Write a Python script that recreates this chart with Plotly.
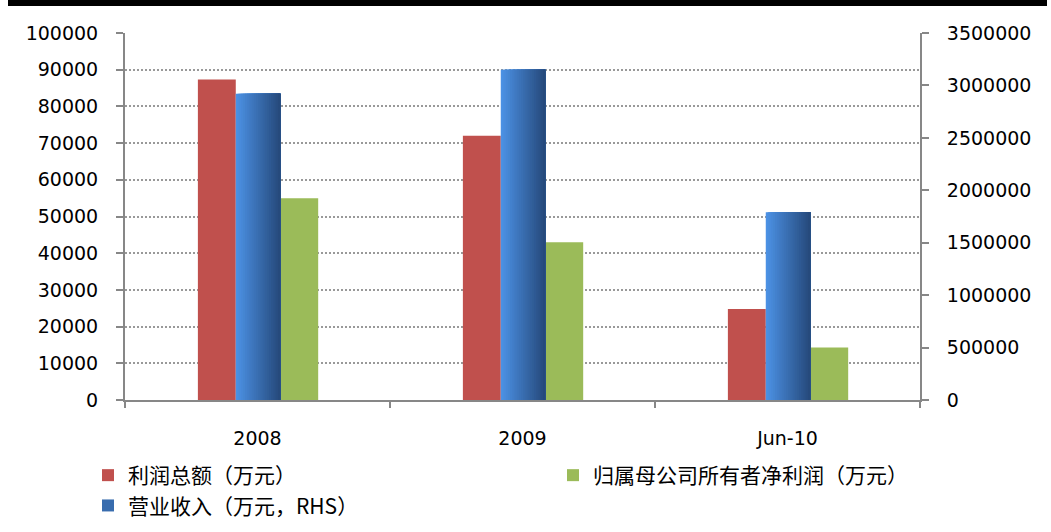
import plotly.graph_objects as go

categories = ["2008", "2009", "Jun-10"]
profit_total = [87300, 72000, 24800]          # 利润总额（万元）, left axis
revenue = [2920000, 3150000, 1790000]         # 营业收入（万元，RHS）, right axis
net_profit_parent = [55000, 43000, 14300]     # 归属母公司所有者净利润（万元）, left axis

left_ticks = list(range(0, 100001, 10000))
right_ticks = list(range(0, 3500001, 500000))

W, H = 1051, 532
ml, mr, mt, mb = 125, 131, 33, 132

RED = "#C0504D"
GREEN = "#9BBB59"
BLUE_L = (76, 145, 228)
BLUE_R = (38, 74, 124)

TICK_FONT = dict(family="DejaVu Sans", size=19, color="#000000")
CJK = "Noto Sans CJK SC"

fig = go.Figure()

# red bars
fig.add_trace(go.Bar(
    x=categories, y=profit_total, name="利润总额（万元）",
    marker=dict(color=RED, line=dict(width=0)),
    offset=-0.225, width=0.143, yaxis="y", legend="legend", legendrank=1,
))

# blue bars with horizontal gradient built from overlapping slices
bw = 0.168
b0 = -0.082
N = 24
for i in range(N):
    t = i / (N - 1)
    c = tuple(round(BLUE_L[k] + (BLUE_R[k] - BLUE_L[k]) * t) for k in range(3))
    fig.add_trace(go.Bar(
        x=categories, y=revenue, name="营业收入（万元，RHS）",
        marker=dict(color="rgb(%d,%d,%d)" % c, line=dict(width=0)),
        offset=b0 + bw * i / N, width=bw - bw * i / N,
        yaxis="y2", legend="legend", legendrank=2,
        showlegend=(i == N // 2), hoverinfo="skip" if i else None,
    ))

# green bars
fig.add_trace(go.Bar(
    x=categories, y=net_profit_parent, name="归属母公司所有者净利润（万元）",
    marker=dict(color=GREEN, line=dict(width=0)),
    offset=0.086, width=0.143, yaxis="y", legend="legend2",
))

axis_line = "#878787"
fig.update_layout(
    width=W, height=H,
    margin=dict(l=ml, r=mr, t=mt, b=mb, pad=0, autoexpand=False),
    paper_bgcolor="white", plot_bgcolor="white",
    barmode="overlay",
    xaxis=dict(
        type="category", range=[-0.5, 2.5], tickson="boundaries",
        showline=True, linecolor=axis_line, linewidth=2,
        ticks="outside", ticklen=6, tickwidth=2, tickcolor=axis_line,
        showgrid=False, tickfont=TICK_FONT, ticklabelstandoff=20,
        tickangle=0, automargin=False,
    ),
    yaxis=dict(
        range=[0, 100000], tickvals=left_ticks, ticktext=[str(v) for v in left_ticks],
        showline=True, linecolor=axis_line, linewidth=2,
        ticks="outside", ticklen=7, tickwidth=2, tickcolor=axis_line,
        showgrid=True, gridcolor="#999999", gridwidth=1.5, griddash="2px,2px",
        zeroline=False, tickfont=TICK_FONT, ticklabelstandoff=14, automargin=False,
    ),
    yaxis2=dict(
        range=[0, 3500000], tickvals=right_ticks, ticktext=[str(v) for v in right_ticks],
        overlaying="y", side="right",
        showline=True, linecolor=axis_line, linewidth=2,
        ticks="outside", ticklen=7, tickwidth=2, tickcolor=axis_line,
        showgrid=False, zeroline=False, tickfont=TICK_FONT, ticklabelstandoff=14,
        automargin=False,
    ),
    legend=dict(
        xref="container", yref="container",
        x=88 / W, y=1 - 455 / H, xanchor="left", yanchor="top",
        orientation="v", traceorder="normal",
        font=dict(family=CJK, size=21, color="#000000"),
        bgcolor="rgba(0,0,0,0)", tracegroupgap=0, itemwidth=30,
    ),
    legend2=dict(
        xref="container", yref="container",
        x=553 / W, y=1 - 455 / H, xanchor="left", yanchor="top",
        font=dict(family=CJK, size=21, color="#000000"),
        bgcolor="rgba(0,0,0,0)", itemwidth=30,
    ),
    shapes=[dict(
        type="rect", xref="paper", yref="paper",
        x0=(8 - ml) / (W - ml - mr), x1=(1047 - ml) / (W - ml - mr),
        y0=1 + (mt - 6) / (H - mt - mb), y1=1 + mt / (H - mt - mb),
        fillcolor="black", line=dict(width=0), layer="above",
    )],
    showlegend=True,
)

fig.write_html("out.html")
